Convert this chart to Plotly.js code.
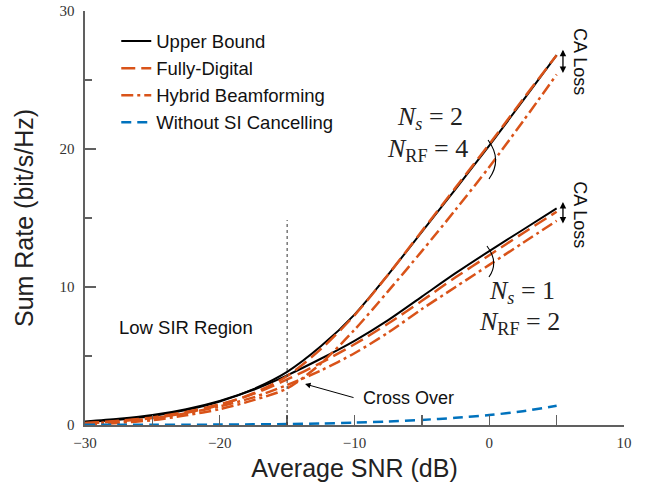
<!DOCTYPE html>
<html><head><meta charset="utf-8">
<script src="https://cdn.plot.ly/plotly-3.0.1.min.js"></script>
<style>html,body{margin:0;padding:0;background:#fff}</style>
</head><body><div id="chart" style="width:646px;height:491px"></div>
<script>
// Average SNR (dB)
const snr = [-30,-27.5,-25,-22.5,-20,-17.5,-15,-12.5,-10,-7.5,-5,-2.5,0,2.5,5];
// Ns = 2, N_RF = 4
const upper2  = [0.20,0.38,0.65,1.08,1.70,2.60,3.85,5.70,8.00,10.90,14.00,17.10,20.25,23.50,26.80];
const digital2= [0.12,0.27,0.50,0.88,1.45,2.30,3.55,5.50,7.95,10.90,14.05,17.20,20.35,23.60,26.80];
const hybrid2 = [0.05,0.15,0.35,0.70,1.15,1.80,2.65,4.45,6.90,9.70,12.60,15.60,18.70,22.00,25.40];
// Ns = 1, N_RF = 2
const upper1  = [0.25,0.45,0.72,1.15,1.75,2.55,3.60,4.80,6.10,7.60,9.30,11.00,12.60,14.15,15.70];
const digital1= [0.15,0.30,0.55,0.95,1.50,2.25,3.30,4.50,5.85,7.35,9.00,10.70,12.30,13.90,15.45];
const hybrid1 = [0.10,0.25,0.48,0.85,1.35,2.00,2.90,3.95,5.20,6.70,8.40,10.00,11.60,13.20,14.80];
// Without SI cancelling
const noSIC   = [0.01,0.015,0.02,0.025,0.03,0.05,0.07,0.11,0.17,0.25,0.37,0.52,0.72,1.00,1.40];

const legendNames = ['Upper Bound','Fully-Digital','Hybrid Beamforming','Without SI Cancelling'];
const xTicks = [-30,-20,-10,0,10];
const yTicks = [0,10,20,30];

const BLACK = '#000000', ORANGE = '#D95319', BLUE = '#0072BD';

function tr(y, name, group, show, color, width, dash) {
  return {x: snr, y: y, type: 'scatter', mode: 'lines', name: name,
    legendgroup: group, showlegend: show,
    line: {color: color, width: width, dash: dash, shape: 'spline', smoothing: 0.8}};
}

const data = [
  tr(upper2, legendNames[0], 'ub', true, BLACK, 2, 'solid'),
  tr(upper1, legendNames[0], 'ub', false, BLACK, 2, 'solid'),
  tr(digital2, legendNames[1], 'fd', true, ORANGE, 2.5, '14px,6px'),
  tr(digital1, legendNames[1], 'fd', false, ORANGE, 2.5, '14px,6px'),
  tr(hybrid2, legendNames[2], 'hb', true, ORANGE, 2.5, '12px,4px,3px,4px'),
  tr(hybrid1, legendNames[2], 'hb', false, ORANGE, 2.5, '12px,4px,3px,4px'),
  tr(noSIC, legendNames[3], 'ns', true, BLUE, 2.5, '10px,6px')
];

const AX = '#606060';
const tickFont = {family: 'Liberation Serif, serif', size: 15, color: '#333'};
const sans = 'Liberation Sans, Arial, sans-serif';
const serif = 'Liberation Serif, serif';

const layout = {
  width: 646, height: 491,
  margin: {l: 85, r: 22, t: 11, b: 66},
  paper_bgcolor: '#fff', plot_bgcolor: '#fff',
  showlegend: true,
  legend: {x: 0.058, y: 0.972, xanchor: 'left', yanchor: 'top',
    bgcolor: 'rgba(0,0,0,0)', borderwidth: 0, traceorder: 'grouped', tracegroupgap: 0,
    font: {family: sans, size: 18.5, color: '#111'}},
  xaxis: {range: [-30, 10], tickvals: xTicks, ticks: 'inside', ticklen: 10, tickwidth: 1.3,
    tickcolor: AX, showline: true, linecolor: AX, linewidth: 1.6, showgrid: false, zeroline: false,
    tickfont: tickFont, ticklabelstandoff: 3,
    minor: {dtick: 5, ticks: 'inside', ticklen: 10, tickwidth: 1.3, tickcolor: AX, showgrid: false},
    title: {text: 'Average SNR (dB)', font: {family: sans, size: 25, color: '#222'}, standoff: 10}},
  yaxis: {range: [0, 30], tickvals: yTicks, ticks: 'inside', ticklen: 11, tickwidth: 1.3,
    tickcolor: AX, showline: true, linecolor: AX, linewidth: 1.6, showgrid: false, zeroline: false,
    tickfont: tickFont, ticklabelstandoff: 6,
    minor: {dtick: 5, ticks: 'inside', ticklen: 7, tickwidth: 1.3, tickcolor: AX, showgrid: false},
    title: {text: 'Sum Rate (bit/s/Hz)', font: {family: sans, size: 25, color: '#222'}, standoff: 18}},
  shapes: [
    {type: 'line', xref: 'x', yref: 'y', x0: -15, x1: -15, y0: 0, y1: 14.85,
      line: {color: '#333', width: 1, dash: 'dot'}},
    {type: 'path', xref: 'x', yref: 'y', path: 'M -0.09,20.65 Q 1.0,19.2 -0.02,17.83',
      line: {color: '#000', width: 1.1}},
    {type: 'path', xref: 'x', yref: 'y', path: 'M -0.17,12.97 Q 0.75,11.81 -0.02,10.72',
      line: {color: '#000', width: 1.1}}
  ],
  annotations: [
    {x: -4.4, y: 22.25, xref: 'x', yref: 'y', showarrow: false,
      text: '<i>N</i><sub><i>s</i></sub> = 2', font: {family: serif, size: 26, color: '#222'}},
    {x: -4.62, y: 19.93, xref: 'x', yref: 'y', showarrow: false,
      text: '<i>N</i><sub>RF</sub> = 4', font: {family: serif, size: 26, color: '#222'}},
    {x: 2.43, y: 9.64, xref: 'x', yref: 'y', showarrow: false,
      text: '<i>N</i><sub><i>s</i></sub> = 1', font: {family: serif, size: 26, color: '#222'}},
    {x: 2.28, y: 7.39, xref: 'x', yref: 'y', showarrow: false,
      text: '<i>N</i><sub>RF</sub> = 2', font: {family: serif, size: 26, color: '#222'}},
    {x: -22.5, y: 7.1, xref: 'x', yref: 'y', showarrow: false,
      text: 'Low SIR Region', font: {family: sans, size: 18.5, color: '#111'}},
    {x: -5.96, y: 1.96, xref: 'x', yref: 'y', showarrow: false,
      text: 'Cross Over', font: {family: sans, size: 18, color: '#111'}},
    {x: -13.67, y: 2.97, xref: 'x', yref: 'y', showarrow: true, text: '',
      ax: 50, ay: 14, arrowhead: 2, arrowsize: 1.1, arrowwidth: 1, arrowcolor: '#000', standoff: 0},
    {x: 6.73, y: 26.3, xref: 'x', yref: 'y', showarrow: false, textangle: 90,
      text: 'CA Loss', font: {family: sans, size: 18, color: '#111'}},
    {x: 6.73, y: 15.2, xref: 'x', yref: 'y', showarrow: false, textangle: 90,
      text: 'CA Loss', font: {family: sans, size: 18, color: '#111'}},
    {x: 5.47, y: 27.2, ax: 5.47, ay: 25.4, xref: 'x', yref: 'y', axref: 'x', ayref: 'y',
      showarrow: true, text: '', arrowhead: 2, startarrowhead: 2, arrowside: 'end+start',
      arrowsize: 1, arrowwidth: 1.3, arrowcolor: '#000'},
    {x: 5.47, y: 16.16, ax: 5.47, ay: 14.49, xref: 'x', yref: 'y', axref: 'x', ayref: 'y',
      showarrow: true, text: '', arrowhead: 2, startarrowhead: 2, arrowside: 'end+start',
      arrowsize: 1, arrowwidth: 1.3, arrowcolor: '#000'}
  ]
};

Plotly.newPlot('chart', data, layout, {displayModeBar: false, staticPlot: true});
</script>
</body></html>
